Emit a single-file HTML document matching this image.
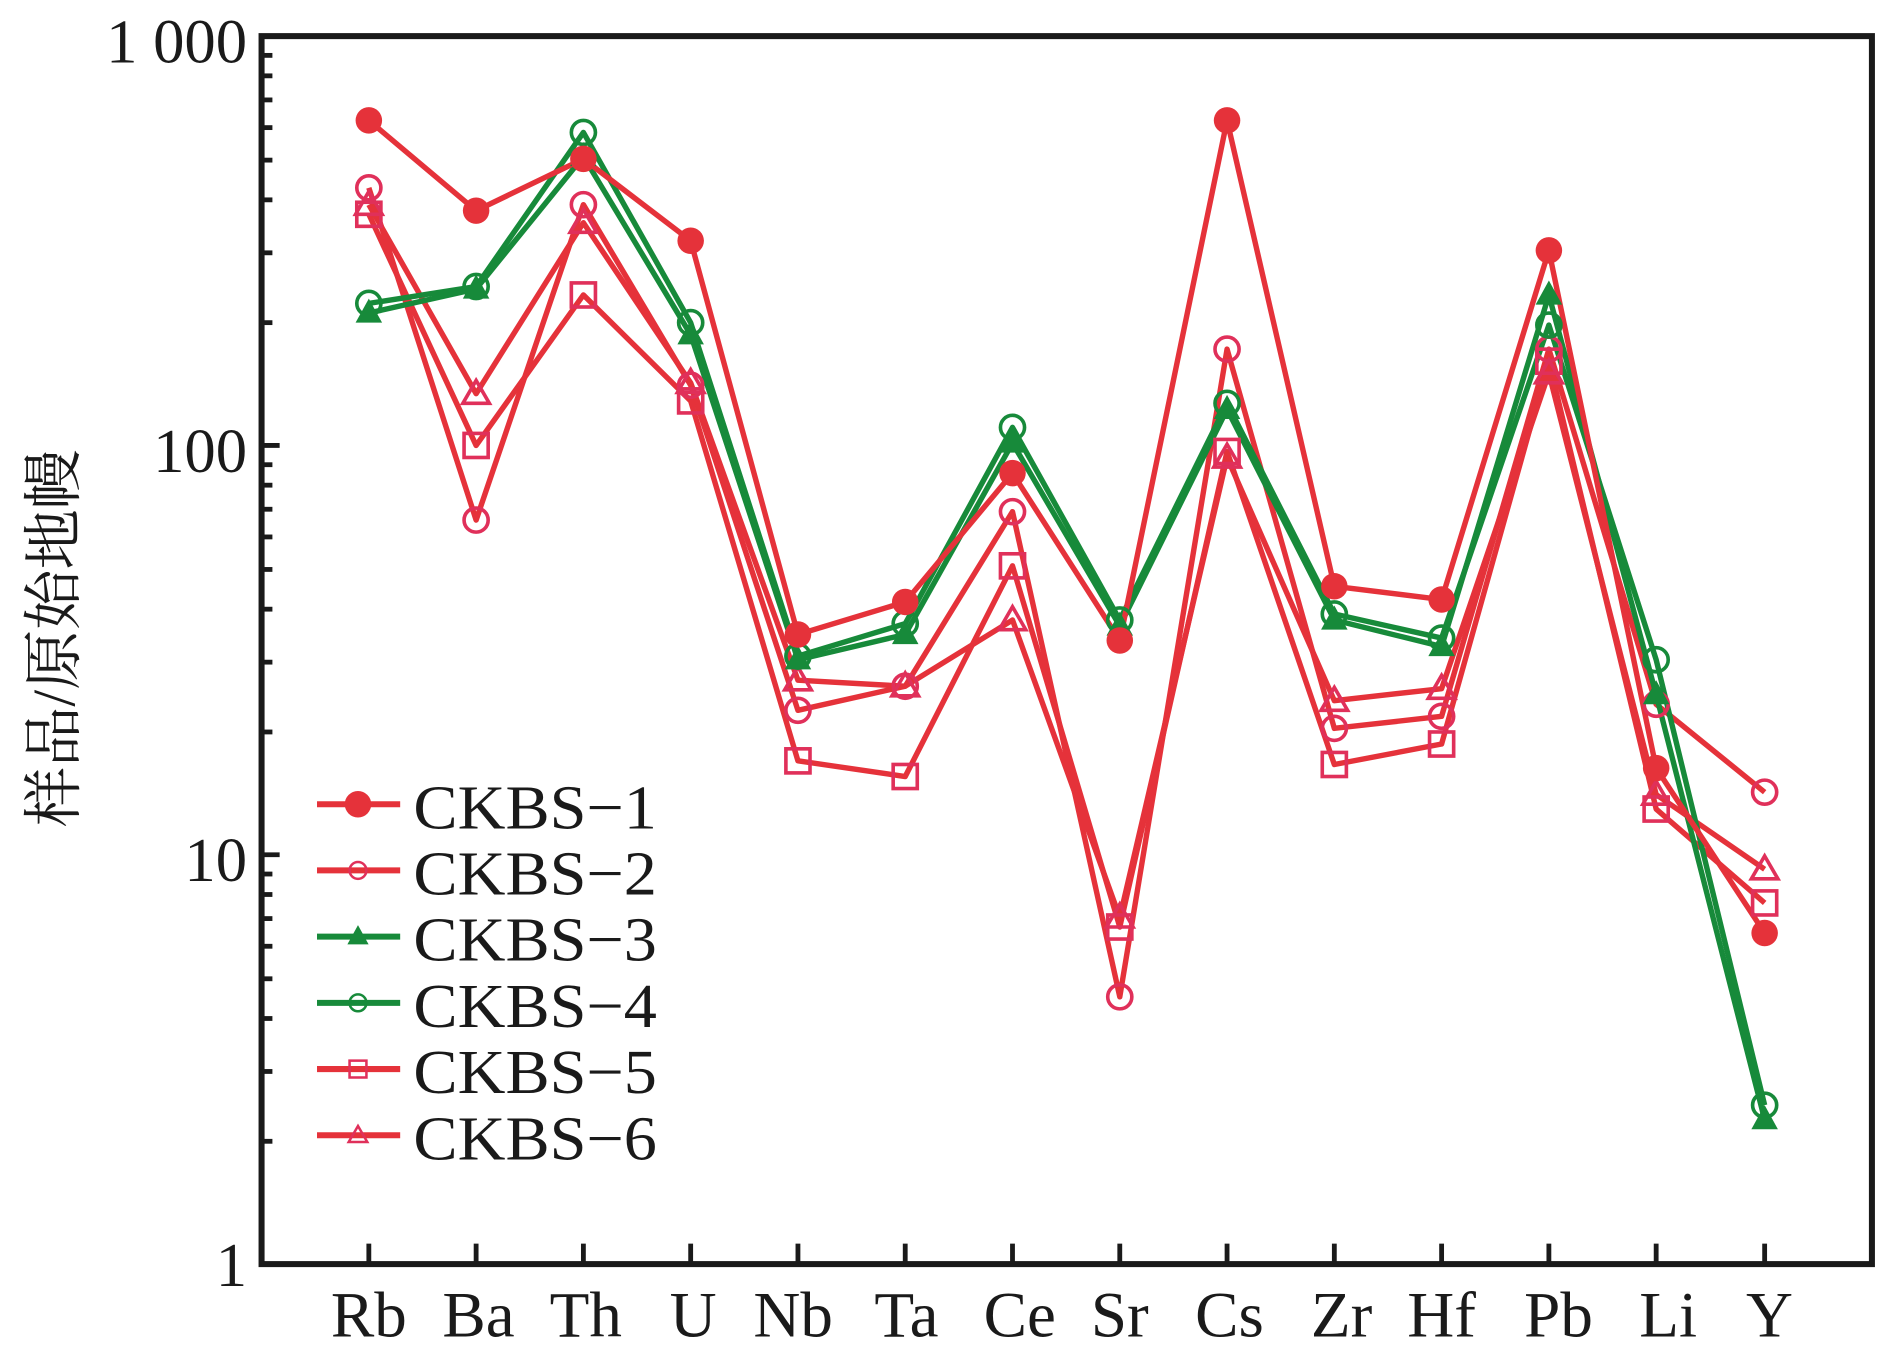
<!DOCTYPE html>
<html><head><meta charset="utf-8"><style>
html,body{margin:0;padding:0;background:#fff;}
svg{display:block;}
text{font-family:"Liberation Serif","Noto Serif CJK SC",serif;fill:#1a1a1a;}
</style></head><body>
<svg width="1890" height="1358" viewBox="0 0 1568 1128" preserveAspectRatio="none" xmlns="http://www.w3.org/2000/svg">
<defs>
<g id="fc"><circle r="11" fill="#e5323a"/></g>
<g id="oc"><circle r="10" fill="none" stroke="#e0305a" stroke-width="3"/></g>
<g id="ft"><polygon points="0,-12 11,8 -11,8" fill="#178a3a"/></g>
<g id="gc"><circle r="10" fill="none" stroke="#178a3a" stroke-width="3"/></g>
<g id="os"><rect x="-10" y="-10" width="20" height="20" fill="none" stroke="#e0305a" stroke-width="3"/></g>
<g id="ot"><polygon points="0,-11 11,8 -11,8" fill="none" stroke="#e0305a" stroke-width="3"/></g>
</defs>
<rect x="217" y="30" width="1336" height="1020" fill="none" stroke="#1a1a1a" stroke-width="5"/>
<g stroke="#1a1a1a" stroke-width="4">
<line x1="217" y1="30" x2="232" y2="30"/><line x1="217" y1="370" x2="232" y2="370"/><line x1="217" y1="710" x2="232" y2="710"/>
<line x1="217" y1="948" x2="226" y2="948"/><line x1="217" y1="890" x2="226" y2="890"/><line x1="217" y1="846" x2="226" y2="846"/><line x1="217" y1="813" x2="226" y2="813"/><line x1="217" y1="786" x2="226" y2="786"/><line x1="217" y1="763" x2="226" y2="763"/><line x1="217" y1="743" x2="226" y2="743"/><line x1="217" y1="726" x2="226" y2="726"/>
<line x1="217" y1="608" x2="226" y2="608"/><line x1="217" y1="550" x2="226" y2="550"/><line x1="217" y1="506" x2="226" y2="506"/><line x1="217" y1="473" x2="226" y2="473"/><line x1="217" y1="446" x2="226" y2="446"/><line x1="217" y1="423" x2="226" y2="423"/><line x1="217" y1="403" x2="226" y2="403"/><line x1="217" y1="386" x2="226" y2="386"/>
<line x1="217" y1="268" x2="226" y2="268"/><line x1="217" y1="210" x2="226" y2="210"/><line x1="217" y1="166" x2="226" y2="166"/><line x1="217" y1="133" x2="226" y2="133"/><line x1="217" y1="106" x2="226" y2="106"/><line x1="217" y1="83" x2="226" y2="83"/><line x1="217" y1="63" x2="226" y2="63"/><line x1="217" y1="46" x2="226" y2="46"/>
</g>
<g stroke="#1a1a1a" stroke-width="4">
<line x1="306" y1="1050" x2="306" y2="1033"/><line x1="395" y1="1050" x2="395" y2="1033"/><line x1="484" y1="1050" x2="484" y2="1033"/><line x1="573" y1="1050" x2="573" y2="1033"/><line x1="662" y1="1050" x2="662" y2="1033"/><line x1="751" y1="1050" x2="751" y2="1033"/><line x1="840" y1="1050" x2="840" y2="1033"/><line x1="929" y1="1050" x2="929" y2="1033"/><line x1="1018" y1="1050" x2="1018" y2="1033"/><line x1="1107" y1="1050" x2="1107" y2="1033"/><line x1="1196" y1="1050" x2="1196" y2="1033"/><line x1="1285" y1="1050" x2="1285" y2="1033"/><line x1="1374" y1="1050" x2="1374" y2="1033"/><line x1="1464" y1="1050" x2="1464" y2="1033"/>
</g>
<g font-size="52" text-anchor="end">
<text x="205" y="52">1 000</text><text x="205" y="392">100</text><text x="205" y="732">10</text><text x="205" y="1068">1</text>
</g>
<text transform="translate(62,530) rotate(-90)" font-size="50" text-anchor="middle">样品/原始地幔</text>
<g font-size="54" text-anchor="middle">
<text x="306" y="1110">Rb</text><text x="397" y="1110">Ba</text><text x="486" y="1110">Th</text><text x="575" y="1110">U</text><text x="658" y="1110">Nb</text><text x="752" y="1110">Ta</text><text x="846" y="1110">Ce</text><text x="929" y="1110">Sr</text><text x="1020" y="1110">Cs</text><text x="1113" y="1110">Zr</text><text x="1196" y="1110">Hf</text><text x="1293" y="1110">Pb</text><text x="1384" y="1110">Li</text><text x="1468" y="1110">Y</text>
</g>
<g fill="none" stroke-width="4.5" stroke-linejoin="round">
<polyline stroke="#e5323a" points="306,156 395,432 484,170 573,320 662,590 751,570 840,425 929,828 1018,290 1107,605 1196,595 1285,290 1374,585 1464,658"/>
<polyline stroke="#e5323a" points="306,178 395,370 484,245 573,333 662,632 751,645 840,470 929,770 1018,375 1107,635 1196,618 1285,300 1374,672 1464,750"/>
<polyline stroke="#e5323a" points="306,170 395,327 484,185 573,318 662,565 751,570 840,515 929,762 1018,380 1107,582 1196,572 1285,310 1374,660 1464,722"/>
<polyline stroke="#178a3a" points="306,252 395,238 484,110 573,268 662,545 751,518 840,355 929,515 1018,335 1107,510 1196,530 1285,270 1374,548 1464,918"/>
<polyline stroke="#178a3a" points="306,260 395,240 484,130 573,278 662,548 751,527 840,368 929,520 1018,340 1107,515 1196,537 1285,245 1374,577 1464,930"/>
<polyline stroke="#e5323a" points="306,100 395,175 484,132 573,200 662,527 751,500 840,393 929,532 1018,100 1107,487 1196,498 1285,208 1374,638 1464,775"/>
</g>
<g>
<use href="#oc" x="306" y="156"/><use href="#oc" x="395" y="432"/><use href="#oc" x="484" y="170"/><use href="#oc" x="573" y="320"/><use href="#oc" x="662" y="590"/><use href="#oc" x="751" y="570"/><use href="#oc" x="840" y="425"/><use href="#oc" x="929" y="828"/><use href="#oc" x="1018" y="290"/><use href="#oc" x="1107" y="605"/><use href="#oc" x="1196" y="595"/><use href="#oc" x="1285" y="290"/><use href="#oc" x="1374" y="585"/><use href="#oc" x="1464" y="658"/>
<use href="#os" x="306" y="178"/><use href="#os" x="395" y="370"/><use href="#os" x="484" y="245"/><use href="#os" x="573" y="333"/><use href="#os" x="662" y="632"/><use href="#os" x="751" y="645"/><use href="#os" x="840" y="470"/><use href="#os" x="929" y="770"/><use href="#os" x="1018" y="375"/><use href="#os" x="1107" y="635"/><use href="#os" x="1196" y="618"/><use href="#os" x="1285" y="300"/><use href="#os" x="1374" y="672"/><use href="#os" x="1464" y="750"/>
<use href="#ot" x="306" y="170"/><use href="#ot" x="395" y="327"/><use href="#ot" x="484" y="185"/><use href="#ot" x="573" y="318"/><use href="#ot" x="662" y="565"/><use href="#ot" x="751" y="570"/><use href="#ot" x="840" y="515"/><use href="#ot" x="929" y="762"/><use href="#ot" x="1018" y="380"/><use href="#ot" x="1107" y="582"/><use href="#ot" x="1196" y="572"/><use href="#ot" x="1285" y="310"/><use href="#ot" x="1374" y="660"/><use href="#ot" x="1464" y="722"/>
<use href="#gc" x="306" y="252"/><use href="#gc" x="395" y="238"/><use href="#gc" x="484" y="110"/><use href="#gc" x="573" y="268"/><use href="#gc" x="662" y="545"/><use href="#gc" x="751" y="518"/><use href="#gc" x="840" y="355"/><use href="#gc" x="929" y="515"/><use href="#gc" x="1018" y="335"/><use href="#gc" x="1107" y="510"/><use href="#gc" x="1196" y="530"/><use href="#gc" x="1285" y="270"/><use href="#gc" x="1374" y="548"/><use href="#gc" x="1464" y="918"/>
<use href="#ft" x="306" y="260"/><use href="#ft" x="395" y="240"/><use href="#ft" x="484" y="130"/><use href="#ft" x="573" y="278"/><use href="#ft" x="662" y="548"/><use href="#ft" x="751" y="527"/><use href="#ft" x="840" y="368"/><use href="#ft" x="929" y="520"/><use href="#ft" x="1018" y="340"/><use href="#ft" x="1107" y="515"/><use href="#ft" x="1196" y="537"/><use href="#ft" x="1285" y="245"/><use href="#ft" x="1374" y="577"/><use href="#ft" x="1464" y="930"/>
<use href="#fc" x="306" y="100"/><use href="#fc" x="395" y="175"/><use href="#fc" x="484" y="132"/><use href="#fc" x="573" y="200"/><use href="#fc" x="662" y="527"/><use href="#fc" x="751" y="500"/><use href="#fc" x="840" y="393"/><use href="#fc" x="929" y="532"/><use href="#fc" x="1018" y="100"/><use href="#fc" x="1107" y="487"/><use href="#fc" x="1196" y="498"/><use href="#fc" x="1285" y="208"/><use href="#fc" x="1374" y="638"/><use href="#fc" x="1464" y="775"/>
</g>
<g stroke-width="5">
<line x1="263" y1="668" x2="332" y2="668" stroke="#e5323a"/><use href="#fc" x="297" y="668"/>
<line x1="263" y1="723" x2="332" y2="723" stroke="#e5323a"/><use href="#oc" x="297" y="723" transform="translate(297,723) scale(0.7) translate(-297,-723)"/>
<line x1="263" y1="778" x2="332" y2="778" stroke="#178a3a"/><use href="#ft" x="297" y="778" transform="translate(297,778) scale(0.8) translate(-297,-778)"/>
<line x1="263" y1="833" x2="332" y2="833" stroke="#178a3a"/><use href="#gc" x="297" y="833" transform="translate(297,833) scale(0.7) translate(-297,-833)"/>
<line x1="263" y1="888" x2="332" y2="888" stroke="#e5323a"/><use href="#os" x="297" y="888" transform="translate(297,888) scale(0.7) translate(-297,-888)"/>
<line x1="263" y1="943" x2="332" y2="943" stroke="#e5323a"/><use href="#ot" x="297" y="943" transform="translate(297,943) scale(0.7) translate(-297,-943)"/>
</g>
<g font-size="52">
<text x="343" y="688" textLength="202" lengthAdjust="spacingAndGlyphs">CKBS−1</text><text x="343" y="743" textLength="202" lengthAdjust="spacingAndGlyphs">CKBS−2</text><text x="343" y="798" textLength="202" lengthAdjust="spacingAndGlyphs">CKBS−3</text><text x="343" y="853" textLength="202" lengthAdjust="spacingAndGlyphs">CKBS−4</text><text x="343" y="908" textLength="202" lengthAdjust="spacingAndGlyphs">CKBS−5</text><text x="343" y="963" textLength="202" lengthAdjust="spacingAndGlyphs">CKBS−6</text>
</g>
</svg>
</body></html>
